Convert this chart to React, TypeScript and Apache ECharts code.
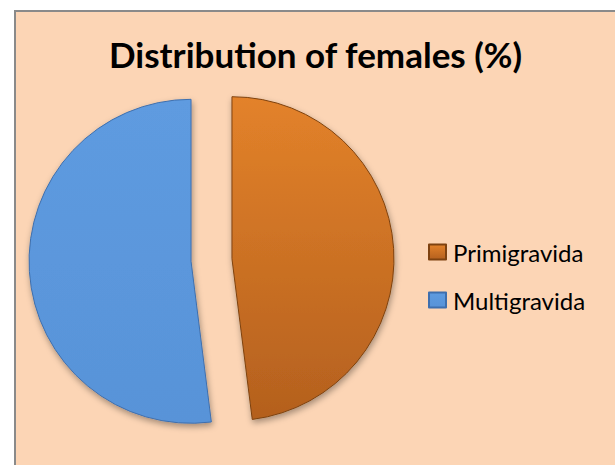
import React, { useEffect, useRef } from "react";
import * as echarts from "echarts";

const titleText = "Distribution of females (%)";
const categories = ["Primigravida", "Multigravida"];
const values = [48, 52];

const orangeGrad = () =>
  new echarts.graphic.LinearGradient(0, 0, 0, 1, [
    { offset: 0, color: "#E3822A" },
    { offset: 1, color: "#B4601E" },
  ]);
const blueGrad = () =>
  new echarts.graphic.LinearGradient(0, 0, 0, 1, [
    { offset: 0, color: "#5E9BE0" },
    { offset: 1, color: "#5893D8" },
  ]);

export default function App() {
  const ref = useRef<HTMLDivElement>(null);
  useEffect(() => {
    if (!ref.current) return;
    const chart = echarts.init(ref.current, undefined, { renderer: "svg" });
    const fills = [orangeGrad(), blueGrad()];
    const borders = ["#7E4210", "#3E6FAE"];
    chart.setOption({
      animation: false,
      backgroundColor: "#FFFFFF",
      graphic: [
        {
          type: "rect",
          z: -10,
          silent: true,
          shape: { x: 15, y: 11, width: 640, height: 480 },
          style: { fill: "#FCD5B5", stroke: "#8A8A8A", lineWidth: 2 },
        },
      ],
      title: {
        text: titleText,
        left: 104,
        top: 31,
        textStyle: {
          fontFamily: "Lato",
          fontWeight: "bold",
          fontSize: 35,
          color: "#000000",
        },
      },
      legend: {
        orient: "vertical",
        left: 423,
        top: 235,
        itemWidth: 17,
        itemHeight: 15,
        itemGap: 24,
        icon: "rect",
        selectedMode: false,
        data: categories,
        textStyle: {
          fontFamily: "Lato",
          fontSize: 24,
          lineHeight: 24,
          color: "#000000",
          padding: [0, 0, 0, 2],
        },
      },
      series: [
        {
          type: "pie",
          center: [211.5, 260],
          radius: 162,
          startAngle: 90,
          clockwise: true,
          selectedMode: "multiple",
          selectedOffset: 20.5,
          label: { show: false },
          labelLine: { show: false },
          emphasis: { disabled: true },
          data: categories.map((name, i) => ({
            name,
            value: values[i],
            selected: true,
            itemStyle: {
              color: fills[i],
              borderColor: borders[i],
              borderWidth: 1,
              shadowColor: "rgba(0,0,0,0.35)",
              shadowBlur: 6,
              shadowOffsetX: 1,
              shadowOffsetY: 3,
            },
          })),
        },
      ],
    });
    return () => chart.dispose();
  }, []);
  return (
    <div
      ref={ref}
      style={{ position: "fixed", left: 0, top: 0, width: 615, height: 465 }}
    />
  );
}
